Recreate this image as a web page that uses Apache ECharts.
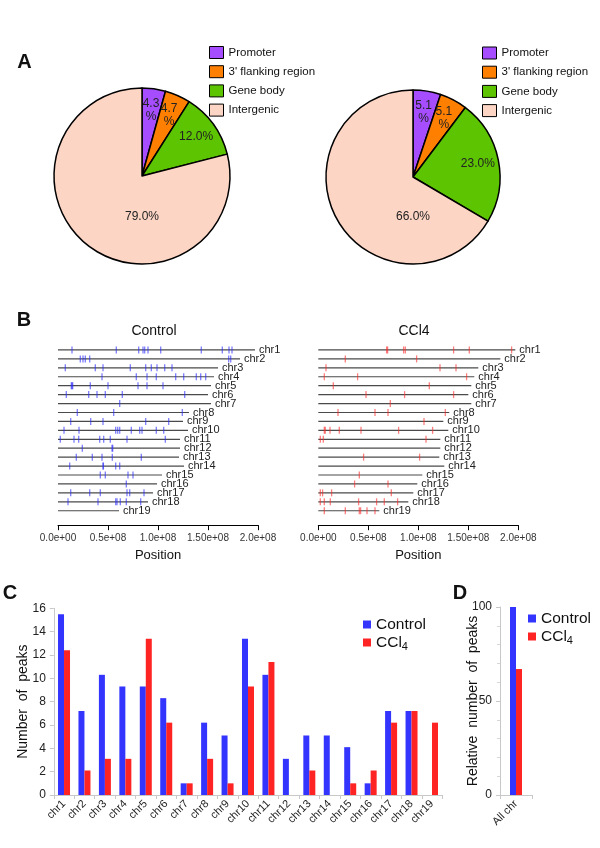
<!DOCTYPE html>
<html lang="en">
<head>
<meta charset="UTF-8">
<title>Peak distribution</title>
<script src="https://cdn.jsdelivr.net/npm/echarts@6/dist/echarts.min.js"></script>
<style>
  html, body { margin: 0; padding: 0; background: #fff; }
</style>
</head>
<body>
<div id="main" style="width:600px;height:848px;"></div>
<script>
// ---- data ----
var pieNames = ['Promoter', "3' flanking region", 'Gene body', 'Intergenic'];
var pieColors = ['#a64dff', '#ff8000', '#5cc400', '#fdd5c5'];
var pieControl = [4.3, 4.7, 12.0, 79.0];
var pieCCl4 = [5.1, 5.1, 23.0, 66.0];

var chrNames = ['chr1','chr2','chr3','chr4','chr5','chr6','chr7','chr8','chr9','chr10',
                'chr11','chr12','chr13','chr14','chr15','chr16','chr17','chr18','chr19'];
var chrLenMb = [197, 182, 160, 156, 153, 150, 153, 131, 125, 130, 122, 122, 121, 126, 104, 99, 95, 90, 61];

// peak positions (Mb) per chromosome
var ctrlPeaksMb = [
  [14, 58.3, 80.7, 85, 86.7, 90, 102.7, 143.3, 164.3, 171, 174],
  [22.3, 25, 27.3, 31.7, 170.7, 172.7],
  [7.3, 37.3, 45, 72.3, 87.7, 93.3, 99, 106.7, 114],
  [44, 78.3, 89, 98.3, 117.7, 125.7, 138.3, 142.7, 147.7],
  [13.3, 14, 14.7, 32.3, 50, 80, 89, 105],
  [8.3, 30.7, 39, 47.3, 64.3, 126.7],
  [61.7],
  [19.3, 55.7, 124.3],
  [12.7, 32.7, 45, 87.7, 110.7],
  [6, 21, 57.7, 59.7, 61.7, 73.3, 81.7, 84, 98.3, 105.7],
  [2.3, 16, 20.7, 41.7, 45.7, 52.3, 69, 107.3],
  [24.3, 54, 54.7],
  [18.3, 34.3, 44, 54.3, 83.3],
  [11.7, 45, 45.4, 57.7, 61.7],
  [42.3, 47.3, 70, 75],
  [68.3],
  [12.7, 31.7, 42.3, 69, 71.7, 86],
  [10, 40, 57.7, 59, 62.3, 68.3, 82.7],
  []
];
var ccl4PeaksMb = [
  [68.3, 69.3, 85.3, 87, 135.3, 151, 193.3],
  [27, 98.3],
  [7.7, 121.7, 137.7],
  [6, 39.3, 148.3],
  [15, 111],
  [47.7, 86.3, 135.3],
  [72],
  [19.7, 56.7, 69.7, 127],
  [105.7],
  [6, 7, 11.7, 21, 42.7, 80.3, 114.3],
  [2, 5, 107.7],
  [],
  [45.3, 101.3],
  [],
  [41],
  [36.3, 69.7],
  [2, 4.3, 13.3, 73],
  [2, 6, 12, 40.3, 58.3, 66, 79.3],
  [6, 27, 41, 42.3, 48.7, 56.7]
];
var posTickLabels = ['0.0e+00', '0.5e+08', '1.0e+08', '1.50e+08', '2.0e+08'];

var peaksControl = [15.5, 7.2, 10.3, 9.3, 9.3, 8.3, 1.0, 6.2, 5.1, 13.4, 10.3, 3.1, 5.1, 5.1, 4.1, 1.0, 7.2, 7.2, 0];
var peaksCCl4 = [12.4, 2.1, 3.1, 3.1, 13.4, 6.2, 1.0, 3.1, 1.0, 9.3, 11.4, 0, 2.1, 0, 1.0, 2.1, 6.2, 7.2, 6.2];
var allChr = ['All chr'];
var relControl = [100];
var relCCl4 = [67];

// ---- helpers ----
var FONT = 'Liberation Sans, Arial, sans-serif';
var BLUE = '#3434ff';
var RED = '#ff2424';

function pieData(vals) {
  return vals.map(function (v, i) {
    return { name: pieNames[i], value: v, itemStyle: { color: pieColors[i] } };
  });
}

// labels of small slices sit out near the rim, the big one under the centre
function pieLabelLayout(vals, cx, cy, r) {
  var total = vals.reduce(function (a, b) { return a + b; }, 0);
  var maxV = Math.max.apply(null, vals);
  var acc = 0;
  var pts = vals.map(function (v) {
    var mid = (acc + v / 2) / total * 2 * Math.PI;
    acc += v;
    if (v === maxV) return [cx, cy + 0.46 * r];
    return [cx + 0.76 * r * Math.sin(mid), cy - 0.76 * r * Math.cos(mid)];
  });
  return function (p) {
    return { x: pts[p.dataIndex][0], y: pts[p.dataIndex][1], align: 'center', verticalAlign: 'middle' };
  };
}

function pieSeries(vals, cx, cy, r) {
  return {
    type: 'pie', center: [cx, cy], radius: r, startAngle: 90, clockwise: true,
    silent: true, animation: false,
    data: pieData(vals),
    itemStyle: { borderColor: '#000', borderWidth: 1.5 },
    label: {
      show: true, position: 'inside', color: '#222', fontFamily: FONT, fontSize: 12, lineHeight: 13,
      formatter: function (p) {
        return p.value < 10 ? p.value.toFixed(1) + '\n%' : p.value.toFixed(1) + '%';
      }
    },
    labelLine: { show: false },
    labelLayout: pieLabelLayout(vals, cx, cy, r)
  };
}

function peakPoints(list) {
  var pts = [];
  list.forEach(function (arr, ci) {
    arr.forEach(function (mb) { pts.push([mb * 1e6, ci]); });
  });
  return pts;
}

function chromGrid(left) {
  return { left: left, top: 345.5, width: 200, height: 169.7 };
}

function chromXAxis(gi) {
  return {
    type: 'value', gridIndex: gi, min: 0, max: 2e8, interval: 5e7, offset: 10,
    axisLine: { show: true, lineStyle: { color: '#000', width: 1 } },
    axisTick: { show: true, length: 5, lineStyle: { color: '#000' } },
    splitLine: { show: false },
    axisLabel: {
      fontFamily: FONT, fontSize: 10, color: '#333', margin: 8,
      formatter: function (v) { return posTickLabels[Math.round(v / 5e7)]; }
    },
    name: 'Position', nameLocation: 'middle', nameGap: 24,
    nameTextStyle: { fontFamily: FONT, fontSize: 13, color: '#111' }
  };
}

function chromYAxis(gi) {
  return { type: 'category', gridIndex: gi, data: chrNames, inverse: true, show: false };
}

function chromSeries(gi, name, peaks, color) {
  return [{
    type: 'bar', xAxisIndex: gi, yAxisIndex: gi, silent: true, animation: false,
    data: chrLenMb.map(function (v) { return v * 1e6; }),
    barWidth: 1.2, itemStyle: { color: '#4a4a4a' },
    label: {
      show: true, position: 'right', distance: 4, fontFamily: FONT, fontSize: 11, color: '#222',
      formatter: function (p) { return chrNames[p.dataIndex]; }
    }
  }, {
    type: 'scatter', name: name, xAxisIndex: gi, yAxisIndex: gi, silent: true, animation: false,
    data: peakPoints(peaks), symbol: 'rect', symbolSize: [1.3, 7],
    itemStyle: { color: color }
  }];
}

function subFormatter(name) {
  return name === 'CCl4' ? 'CCl{sub|4}' : name;
}

var barLegendText = {
  fontFamily: FONT, fontSize: 15.5, color: '#111', lineHeight: 18,
  rich: { sub: { fontFamily: FONT, fontSize: 11, color: '#111', padding: [8, 0, 0, 0] } }
};

function pieLegend(left, top) {
  return {
    data: pieNames, orient: 'vertical', left: left, top: top, padding: 0, selectedMode: false,
    icon: 'rect', itemWidth: 14, itemHeight: 12, itemGap: 6.2,
    itemStyle: { borderColor: '#000', borderWidth: 1 },
    textStyle: { fontFamily: FONT, fontSize: 11.5, color: '#111', lineHeight: 12 }
  };
}

function barLegend(left, top) {
  return {
    data: ['Control', 'CCl4'], orient: 'vertical', left: left, top: top, padding: 0, selectedMode: false,
    icon: 'rect', itemWidth: 8, itemHeight: 8, itemGap: 0,
    formatter: subFormatter, textStyle: barLegendText
  };
}

var labelFont = function (t, x, y, size, weight) {
  return {
    type: 'text', x: x, y: y, silent: true,
    style: { text: t, fontFamily: FONT, fontSize: size, fontWeight: weight || 'normal',
             fill: '#111', align: 'center', verticalAlign: 'middle' }
  };
};

var chart = echarts.init(document.getElementById('main'));

var option = {
  backgroundColor: '#fff',
  animation: false,
  textStyle: { fontFamily: FONT },
  graphic: [
    labelFont('A', 24.5, 62.5, 20, 'bold'),
    labelFont('B', 24, 320.5, 20, 'bold'),
    labelFont('C', 10, 593, 20, 'bold'),
    labelFont('D', 460, 593, 20, 'bold'),
    labelFont('Control', 154, 331, 14),
    labelFont('CCl4', 414, 331, 14)
  ],
  legend: [
    pieLegend(209, 46),
    pieLegend(482, 46.5),
    barLegend(363, 615.5),
    barLegend(528, 609.5)
  ],
  grid: [
    chromGrid(58),
    chromGrid(318.3),
    { left: 53.8, top: 608.3, width: 388.4, height: 186.7 },
    { left: 500, top: 607, width: 32, height: 188 }
  ],
  xAxis: [
    chromXAxis(0),
    chromXAxis(1),
    {
      type: 'category', gridIndex: 2, data: chrNames,
      axisLine: { lineStyle: { color: '#c8c8c8' } },
      axisTick: { show: true, length: 4, lineStyle: { color: '#c8c8c8' } },
      axisLabel: { rotate: 45, interval: 0, fontFamily: FONT, fontSize: 11, color: '#222', margin: 7 }
    },
    {
      type: 'category', gridIndex: 3, data: allChr,
      axisLine: { lineStyle: { color: '#c8c8c8' } },
      axisTick: { show: true, length: 4, lineStyle: { color: '#c8c8c8' } },
      axisLabel: { rotate: 45, interval: 0, fontFamily: FONT, fontSize: 11, color: '#222', margin: 7 }
    }
  ],
  yAxis: [
    chromYAxis(0),
    chromYAxis(1),
    {
      type: 'value', gridIndex: 2, min: 0, max: 16, interval: 2,
      axisLine: { show: true, lineStyle: { color: '#c8c8c8' } },
      axisTick: { show: true, length: 4, lineStyle: { color: '#c8c8c8' } },
      splitLine: { show: false },
      axisLabel: { fontFamily: FONT, fontSize: 12, color: '#222', margin: 8 },
      name: 'Number  of  peaks', nameLocation: 'middle', nameGap: 24, nameRotate: 90,
      nameMoveOverlap: false,
      nameTextStyle: { fontFamily: FONT, fontSize: 14, color: '#111' }
    },
    {
      type: 'value', gridIndex: 3, min: 0, max: 100, interval: 50,
      axisLine: { show: true, lineStyle: { color: '#c8c8c8' } },
      axisTick: { show: true, length: 4, lineStyle: { color: '#c8c8c8' } },
      minorTick: { show: true, splitNumber: 5, length: 3, lineStyle: { color: '#d8d8d8' } },
      splitLine: { show: false },
      axisLabel: { fontFamily: FONT, fontSize: 12, color: '#222', margin: 8 },
      name: 'Relative  number  of  peaks', nameLocation: 'middle', nameGap: 20, nameRotate: 90,
      nameMoveOverlap: false,
      nameTextStyle: { fontFamily: FONT, fontSize: 14, color: '#111' }
    }
  ],
  series: [
    pieSeries(pieControl, 142, 176, 88),
    pieSeries(pieCCl4, 413, 177, 87)
  ].concat(
    chromSeries(0, 'Control peaks', ctrlPeaksMb, 'rgba(40,40,255,0.75)'),
    chromSeries(1, 'CCl4 peaks', ccl4PeaksMb, 'rgba(255,40,40,0.75)'),
    [
      { type: 'bar', name: 'Control', xAxisIndex: 2, yAxisIndex: 2, data: peaksControl,
        barWidth: 6, barGap: '0%', itemStyle: { color: BLUE }, silent: true },
      { type: 'bar', name: 'CCl4', xAxisIndex: 2, yAxisIndex: 2, data: peaksCCl4,
        barWidth: 6, barGap: '0%', itemStyle: { color: RED }, silent: true },
      { type: 'bar', name: 'Control', xAxisIndex: 3, yAxisIndex: 3, data: relControl,
        barWidth: 6, barGap: '0%', itemStyle: { color: BLUE }, silent: true },
      { type: 'bar', name: 'CCl4', xAxisIndex: 3, yAxisIndex: 3, data: relCCl4,
        barWidth: 6, barGap: '0%', itemStyle: { color: RED }, silent: true }
    ]
  )
};

chart.setOption(option);
</script>
</body>
</html>
